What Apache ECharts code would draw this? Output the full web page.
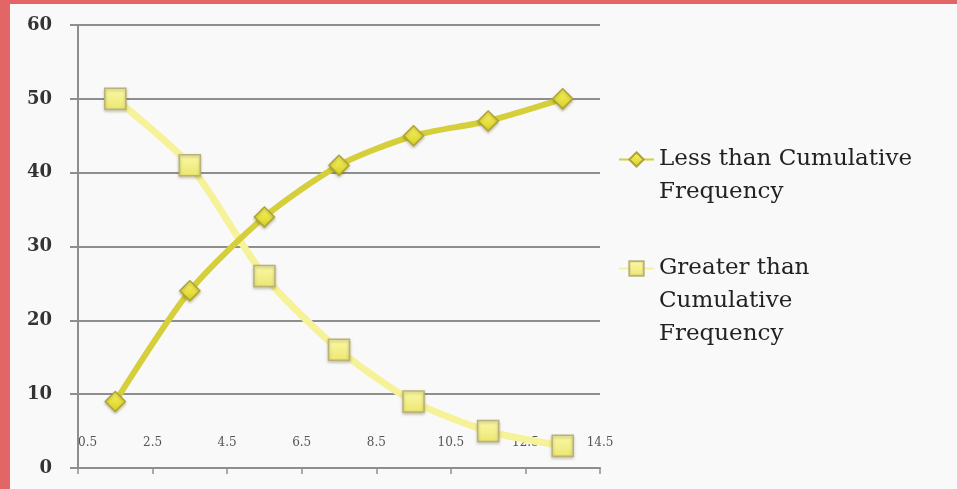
<!DOCTYPE html>
<html>
<head>
<meta charset="utf-8">
<script src="https://cdn.jsdelivr.net/npm/echarts@6/dist/echarts.min.js"></script>
<style>
  html, body { margin: 0; padding: 0; width: 957px; height: 489px; background: #e26666; overflow: hidden; }
  #chart { position: absolute; left: 10px; top: 4px; width: 947px; height: 485px; background: #f9f9f9; }
</style>
</head>
<body>
<div id="chart"></div>
<script>
// Class boundaries shown along the x axis, and the class midpoints where values are plotted
const boundaries = [0.5, 2.5, 4.5, 6.5, 8.5, 10.5, 12.5, 14.5];
const midpoints = [1.5, 3.5, 5.5, 7.5, 9.5, 11.5, 13.5];
const lessThanCF = [9, 24, 34, 41, 45, 47, 50];
const greaterThanCF = [50, 41, 26, 16, 9, 5, 3];
const yTicks = [0, 10, 20, 30, 40, 50, 60];

const nameLess = 'Less than Cumulative Frequency';
const nameGreater = 'Greater than Cumulative Frequency';
// Wrapped legend labels; leading blank lines keep the first text line level with the icon
const legendText = {};
legendText[nameLess] = '\nLess than Cumulative\nFrequency';
legendText[nameGreater] = '\n\nGreater than\nCumulative\nFrequency';

const serif = '"DejaVu Serif", "Liberation Serif", serif';
const gridGray = '#8e8e8e';

const chart = echarts.init(document.getElementById('chart'));

const legendBase = {
  orient: 'vertical',
  left: 608,
  padding: 0,
  itemWidth: 35,
  itemHeight: 18,
  itemGap: 0,
  formatter: n => legendText[n],
  textStyle: { fontFamily: serif, fontSize: 23, color: '#222', lineHeight: 33 }
};

chart.setOption({
  animation: false,
  grid: { left: 68, right: 357, top: 21, bottom: 21, containLabel: false },
  legend: [
    Object.assign({}, legendBase, { top: 106, data: [nameLess] }),
    Object.assign({}, legendBase, { top: 182, data: [nameGreater] })
  ],
  xAxis: {
    type: 'value',
    min: boundaries[0],
    max: boundaries[boundaries.length - 1],
    splitLine: { show: false },
    axisLine: { show: true, lineStyle: { color: gridGray, width: 2 } },
    axisTick: { show: true, length: 6, customValues: boundaries, lineStyle: { color: gridGray, width: 1.5 } },
    axisLabel: {
      inside: true,
      margin: 19,
      customValues: boundaries,
      formatter: v => String(v),
      alignMinLabel: 'left',
      fontFamily: serif, fontSize: 12, color: '#555'
    }
  },
  yAxis: {
    type: 'value',
    min: yTicks[0],
    max: yTicks[yTicks.length - 1],
    interval: 10,
    axisLine: { show: true, lineStyle: { color: gridGray, width: 2 } },
    axisTick: { show: true, length: 8, lineStyle: { color: gridGray, width: 2 } },
    splitLine: { show: true, lineStyle: { color: gridGray, width: 2 } },
    axisLabel: { margin: 26, fontFamily: serif, fontSize: 18, fontWeight: 'bold', color: '#333' }
  },
  series: [
    {
      name: nameLess,
      type: 'line',
      smooth: 0.25,
      data: midpoints.map((x, i) => [x, lessThanCF[i]]),
      lineStyle: { color: '#d6cf3c', width: 6 },
      symbol: 'diamond',
      symbolSize: [20, 20],
      itemStyle: {
        color: new echarts.graphic.LinearGradient(0, 0, 0, 1, [
          { offset: 0, color: '#f9f56a' },
          { offset: 1, color: '#d8d020' }
        ]),
        borderColor: '#aea232',
        borderWidth: 1.5,
        shadowColor: 'rgba(90,80,0,0.35)',
        shadowBlur: 3,
        shadowOffsetY: 1.5
      },
      z: 3
    },
    {
      name: nameGreater,
      type: 'line',
      smooth: 0.25,
      data: midpoints.map((x, i) => [x, greaterThanCF[i]]),
      lineStyle: { color: '#f6f29a', width: 7 },
      symbol: 'rect',
      symbolSize: [21, 21],
      itemStyle: {
        color: new echarts.graphic.LinearGradient(0, 0, 0, 1, [
          { offset: 0, color: '#fbf9a8' },
          { offset: 1, color: '#ece670' }
        ]),
        borderColor: '#b9b27a',
        borderWidth: 1.5,
        shadowColor: 'rgba(90,80,30,0.35)',
        shadowBlur: 3,
        shadowOffsetY: 1.5
      },
      z: 2
    }
  ]
});
</script>
</body>
</html>
